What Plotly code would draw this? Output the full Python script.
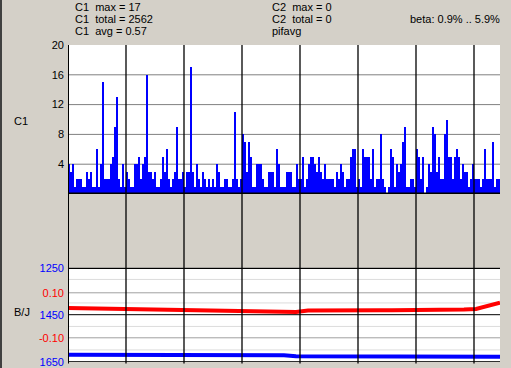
import plotly.graph_objects as go

# ---------------- data ----------------
c1_counts = [
    # bins 0-53
    4, 3, 4, 1, 2, 2, 2, 1, 1, 3, 2, 3, 1, 1, 6, 1, 4, 15, 2, 2,
    2, 4, 5, 9, 13, 2, 1, 4, 1, 3, 2, 1, 1, 4, 4, 5, 2, 4, 5, 16,
    3, 3, 2, 3, 1, 1, 2, 5, 3, 6, 2, 1, 2, 3,
    # bins 54-107
    9, 2, 2, 3, 1, 3, 3, 17, 3, 1, 4, 2, 1, 3, 2, 1, 2, 1, 2, 1,
    4, 3, 1, 1, 2, 2, 1, 1, 2, 11, 2, 1, 2, 8, 7, 3, 7, 5, 1, 1,
    4, 4, 4, 2, 1, 1, 3, 3, 3, 1, 6, 4, 1, 1,
    # bins 108-161
    1, 3, 3, 3, 1, 1, 4, 2, 2, 5, 1, 2, 4, 5, 5, 4, 3, 5, 3, 2,
    4, 2, 2, 2, 2, 1, 3, 2, 4, 3, 1, 2, 2, 5, 6, 6, 1, 2, 1, 6,
    5, 5, 5, 2, 6, 1, 2, 2, 8, 2, 1, 0, 1, 6,
    # bins 162-215
    5, 1, 4, 3, 4, 7, 9, 1, 1, 2, 2, 1, 6, 5, 2, 5, 0, 1, 4, 3,
    9, 8, 3, 5, 2, 2, 8, 10, 5, 5, 2, 5, 6, 5, 2, 4, 3, 3, 1, 2,
    4, 2, 2, 2, 1, 2, 6, 2, 2, 2, 7, 1, 2, 2,
]

# B/J series sampled every 6 bins
bj_x = [0, 6, 12, 18, 24, 30, 36, 42, 48, 54, 60, 66, 72, 78, 84, 90, 96,
        102, 108, 114, 120, 126, 132, 138, 144, 150, 156, 162, 168, 174,
        180, 186, 192, 198, 204, 210, 216]
red_vals = [0.032, 0.031, 0.031, 0.030, 0.029, 0.028, 0.028, 0.027, 0.026,
            0.025, 0.024, 0.023, 0.022, 0.021, 0.020, 0.018, 0.016, 0.015,
            0.014, 0.015, 0.021, 0.022, 0.022, 0.022, 0.022, 0.022, 0.023,
            0.023, 0.023, 0.026, 0.026, 0.025, 0.026, 0.026, 0.028, 0.040,
            0.056]
blue_vals = [1620, 1620, 1620, 1620, 1620, 1621, 1621, 1621, 1622, 1622,
             1622, 1622, 1622, 1622, 1623, 1623, 1623, 1623, 1623, 1627,
             1627, 1627, 1627, 1627, 1627, 1627, 1627, 1627, 1627, 1629,
             1629, 1629, 1629, 1629, 1629, 1629, 1629]

c1_ticks = [4, 8, 12, 16, 20]
bj_blue_ticks = [1250, 1450, 1650]
bj_red_ticks = [0.10, -0.10]
bj_red_ticktext = ["0.10", "-0.10"]
x_grid = [29, 58, 87, 116, 145, 174, 203]
blue_light_grid = [1300, 1400, 1500, 1600]
blue_black_grid = [1450, 1650]

stats_left = ["C1  max = 17", "C1  total = 2562", "C1  avg = 0.57"]
stats_mid = ["C2  max = 0", "C2  total = 0", "pifavg"]
beta_text = "beta: 0.9% .. 5.9%"

# ---------------- layout geometry ----------------
W, H = 511, 368
L, R, T, B = 68, 11, 45, 6
PW, PH = W - L - R, H - T - B


def px(xp):
    return (xp - L) / PW


def py(yp):
    return (H - B - yp) / PH


FONT = "Liberation Sans"
BG = "#d4d0c8"

fig = go.Figure()

fig.add_trace(go.Bar(
    x=[i + 0.5 for i in range(len(c1_counts))], y=c1_counts, width=1,
    marker=dict(color="#0000ff", line=dict(width=0)),
    xaxis="x", yaxis="y", showlegend=False, hoverinfo="skip"))

fig.add_trace(go.Scatter(
    x=bj_x, y=red_vals, mode="lines", line=dict(color="#ff0000", width=4),
    xaxis="x", yaxis="y3", showlegend=False, hoverinfo="skip"))

fig.add_trace(go.Scatter(
    x=bj_x, y=blue_vals, mode="lines", line=dict(color="#0000ff", width=4),
    xaxis="x", yaxis="y2", showlegend=False, hoverinfo="skip"))

shapes = []
# top panel gridlines
for v in c1_ticks[:-1]:
    shapes.append(dict(type="line", xref="x", yref="y", x0=0, x1=216, y0=v, y1=v,
                       line=dict(color="#808080", width=1), layer="below"))
# bottom light gridlines
for v in blue_light_grid:
    shapes.append(dict(type="line", xref="x", yref="y2", x0=0, x1=216, y0=v, y1=v,
                       line=dict(color="#dcdcdc", width=1), layer="below"))
for v in bj_red_ticks:
    shapes.append(dict(type="line", xref="x", yref="y3", x0=0, x1=216, y0=v, y1=v,
                       line=dict(color="#a0a0a0", width=1), layer="below"))
for v in blue_black_grid:
    shapes.append(dict(type="line", xref="x", yref="y2", x0=0, x1=216, y0=v, y1=v,
                       line=dict(color="#000000", width=1), layer="above"))
# thick black lines
shapes.append(dict(type="line", xref="x", yref="y", x0=0, x1=216, y0=0, y1=0,
                   line=dict(color="#000000", width=3), layer="above"))
shapes.append(dict(type="line", xref="x", yref="y2", x0=0, x1=216, y0=1250, y1=1250,
                   line=dict(color="#000000", width=2.5), layer="above"))
# vertical grid lines
for v in x_grid:
    shapes.append(dict(type="line", xref="x", yref="paper", x0=v, x1=v,
                       y0=py(363.5), y1=1, line=dict(color="#000000", width=1.3),
                       layer="above"))
# left border of plot
shapes.append(dict(type="line", xref="paper", yref="paper", x0=px(68.5), x1=px(68.5),
                   y0=py(363.5), y1=1, line=dict(color="#000000", width=1), layer="above"))
# window left edge
shapes.append(dict(type="rect", xref="paper", yref="paper", x0=px(0), x1=px(2),
                   y0=py(H), y1=py(0), line=dict(width=0), fillcolor="#404040",
                   layer="above"))

annotations = []
for i, t in enumerate(stats_left):
    annotations.append(dict(text=t, x=px(73), y=py(7 + 12.2 * i), xref="paper",
                            yref="paper", xanchor="left", yanchor="middle",
                            showarrow=False, font=dict(family=FONT, size=11, color="#000")))
for i, t in enumerate(stats_mid):
    annotations.append(dict(text=t, x=px(270), y=py(7 + 12.2 * i), xref="paper",
                            yref="paper", xanchor="left", yanchor="middle",
                            showarrow=False, font=dict(family=FONT, size=11, color="#000")))
annotations.append(dict(text=beta_text, x=px(502), y=py(19.2), xref="paper",
                        yref="paper", xanchor="right", yanchor="middle",
                        showarrow=False, font=dict(family=FONT, size=11, color="#000")))
annotations.append(dict(text="C1", x=px(12), y=py(121), xref="paper", yref="paper",
                        xanchor="left", yanchor="middle", showarrow=False,
                        font=dict(family=FONT, size=11, color="#000")))
annotations.append(dict(text="B/J", x=px(12), y=py(311.5), xref="paper", yref="paper",
                        xanchor="left", yanchor="middle", showarrow=False,
                        font=dict(family=FONT, size=11, color="#000")))

top_dom = [py(194), 1]
bot_dom = [0, py(267.7)]
blue_range = [1650 + (H - B - 361.7) * 400 / 94.0, 1250]
red_per_px = 0.1 / 22.5
red_range = [-(H - B - 315.3) * red_per_px, (315.3 - 267.7) * red_per_px]

fig.update_layout(
    width=W, height=H,
    margin=dict(l=L, r=R, t=T, b=B, pad=0, autoexpand=False),
    paper_bgcolor=BG, plot_bgcolor="#ffffff",
    bargap=0, showlegend=False,
    font=dict(family=FONT, size=11, color="#000"),
    xaxis=dict(range=[0, 216], showgrid=False, zeroline=False, showline=False,
               showticklabels=False, ticks="", fixedrange=True, automargin=False),
    yaxis=dict(domain=top_dom, range=[0, 20], tickvals=c1_ticks,
               ticktext=[str(v) for v in c1_ticks], showgrid=False, zeroline=False,
               showline=False, ticks="", ticklabelstandoff=3, automargin=False,
               tickfont=dict(family=FONT, size=11, color="#000")),
    yaxis2=dict(domain=bot_dom, range=blue_range, tickvals=bj_blue_ticks,
                ticktext=[str(v) for v in bj_blue_ticks], showgrid=False,
                zeroline=False, showline=False, ticks="", anchor="x",
                ticklabelstandoff=3, automargin=False,
                tickfont=dict(family=FONT, size=11, color="#0000ff")),
    yaxis3=dict(range=red_range, overlaying="y2", anchor="x", side="left",
                tickvals=bj_red_ticks, ticktext=bj_red_ticktext, showgrid=False,
                zeroline=False, showline=False, ticks="", ticklabelstandoff=3,
                automargin=False,
                tickfont=dict(family=FONT, size=11, color="#ff0000")),
    shapes=shapes, annotations=annotations,
)

fig.write_html("out.html", config={"displayModeBar": False})
